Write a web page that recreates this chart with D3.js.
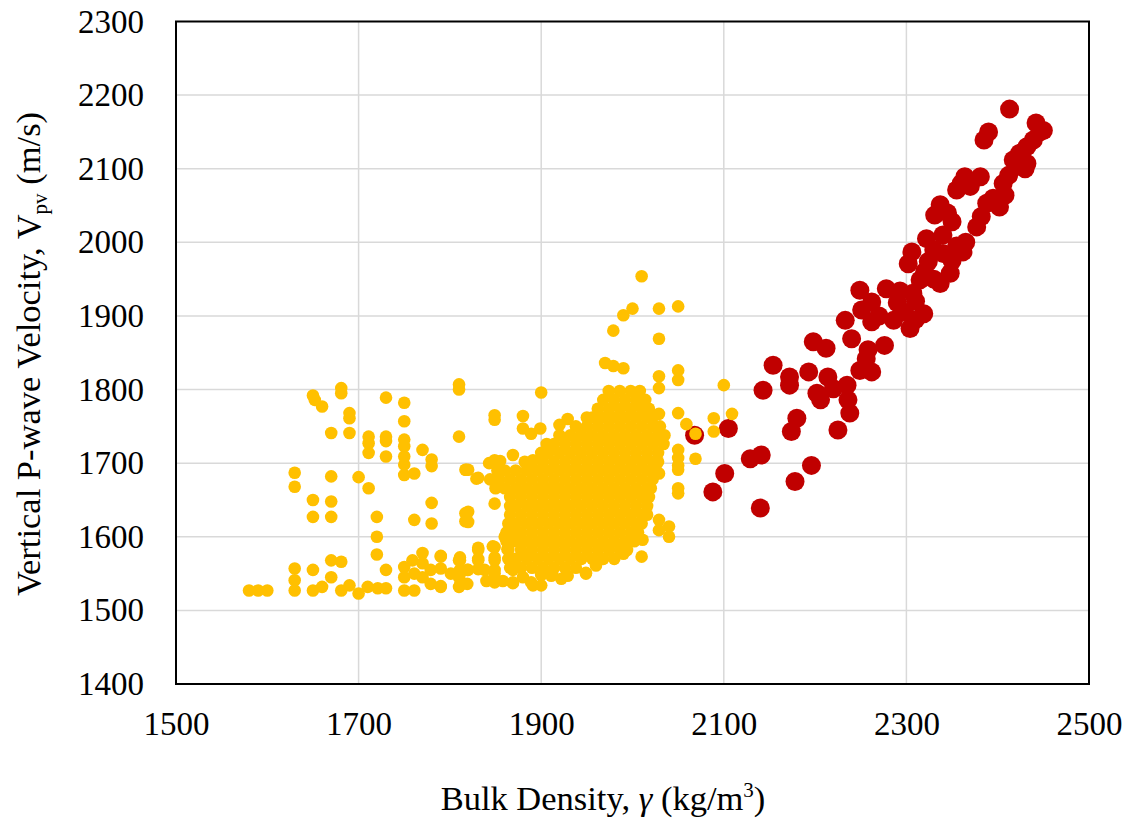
<!DOCTYPE html>
<html>
<head>
<meta charset="utf-8">
<script src="https://cdn.jsdelivr.net/npm/d3@7"></script>
<style>
  body { margin: 0; background: #fff; }
  text { font-family: "Liberation Serif", "Times New Roman", serif; fill: #000; }
</style>
</head>
<body>
<svg id="chart"></svg>
<script>
// axis ticks
const xTicks = [1500, 1700, 1900, 2100, 2300, 2500];
const yTicks = [1400, 1500, 1600, 1700, 1800, 1900, 2000, 2100, 2200, 2300];

// red series: [bulk density, Vpv]
const redPts = [
  [2413,2181],[2442,2162],[2446,2150],[2450,2152],[2390,2150],[2385,2139],[2439,2139],
  [2432,2130],[2424,2121],[2417,2112],[2432,2107],[2430,2100],[2425,2115],[2420,2104],
  [2412,2091],[2406,2080],[2381,2089],[2364,2089],[2355,2071],[2370,2076],[2360,2080],
  [2402,2048],[2408,2064],[2388,2053],[2395,2060],[2337,2051],[2331,2037],[2350,2028],
  [2345,2040],[2377,2021],[2382,2035],[2322,2005],[2340,2010],[2362,1987],[2365,2000],
  [2355,1995],[2306,1987],[2302,1971],[2324,1974],[2330,1990],[2340,1985],[2348,1958],
  [2350,1975],[2337,1944],[2315,1949],[2320,1960],[2307,1931],[2330,1950],[2278,1937],
  [2293,1934],[2249,1935],[2262,1919],[2251,1908],[2233,1894],[2262,1892],[2286,1894],
  [2304,1883],[2319,1903],[2310,1920],[2298,1905],[2290,1918],[2270,1900],[2310,1895],
  [2240,1869],[2198,1865],[2212,1856],[2276,1860],[2258,1854],[2256,1842],[2262,1824],
  [2249,1826],[2154,1833],[2172,1817],[2193,1824],[2172,1806],[2214,1817],[2143,1799],
  [2202,1795],[2220,1801],[2206,1786],[2235,1806],[2236,1786],[2238,1768],[2225,1745],
  [2180,1761],[2174,1743],[2105,1747],[2068,1738],[2129,1706],[2141,1711],[2196,1697],
  [2101,1686],[2178,1675],[2088,1661],[2140,1639]
];

// yellow series: [bulk density, Vpv]
const yellowPts = [
  // sparse low-density points
  [1580,1527],[1590,1527],[1600,1527],
  [1630,1687],[1630,1668],[1630,1557],[1630,1541],[1630,1527],
  [1650,1792],[1652,1786],[1660,1777],[1681,1802],[1681,1795],[1690,1768],[1690,1761],
  [1670,1741],[1690,1741],[1650,1650],[1650,1627],[1670,1648],[1670,1627],[1670,1682],
  [1700,1681],[1711,1666],[1670,1568],[1681,1566],[1650,1555],[1650,1527],[1660,1532],
  [1670,1545],[1681,1527],[1690,1534],[1700,1523],[1710,1532],
  [1720,1627],[1720,1600],[1720,1576],[1730,1555],[1730,1530],[1721,1530],
  [1711,1736],[1711,1727],[1711,1714],[1730,1789],[1730,1736],[1730,1730],[1730,1709],
  [1750,1782],[1750,1757],[1750,1732],[1750,1723],[1750,1709],[1750,1698],[1750,1684],
  [1761,1686],[1770,1718],[1780,1705],[1780,1696],[1780,1646],[1780,1618],[1761,1623],
  [1770,1578],[1790,1573],[1810,1568],[1810,1807],[1810,1800],[1810,1736],[1817,1691],
  [1817,1632],[1817,1621],
  [1750,1559],[1750,1545],[1750,1527],[1759,1568],[1761,1550],[1761,1527],[1770,1564],
  [1770,1545],[1779,1555],[1779,1536],[1790,1557],[1790,1532],[1801,1550],[1810,1545],
  [1810,1532],[1819,1555],[1819,1536],
  // mid-density outliers
  [2010,1954],[2000,1910],[1990,1901],[2029,1910],[2050,1913],[1979,1880],[2029,1869],
  [1970,1836],[1979,1832],[1990,1829],[2029,1818],[2029,1802],[2050,1826],[2050,1813],
  [1900,1796],[2100,1806],[2109,1767],[2089,1761],[2089,1743],[2069,1740],[2059,1753],
  [2069,1706],[2050,1768],[2029,1767],[1849,1765],[1849,1759],[1880,1764],[1880,1747],
  [1899,1747],[1889,1740],[1920,1752],[1929,1760],[1960,1763],[1818,1691],[1829,1679],
  [1869,1711],[1891,1704],[1849,1704],[1849,1645],[1820,1634],[1820,1620],[1811,1568],
  [1811,1534],[1811,1550],[1820,1555],[1831,1582],[1849,1586],[1869,1537],[1891,1534],
  [1900,1534],[1922,1543],[1949,1550],[1960,1561],[1990,1577],[2010,1573],[2011,1596],
  [2029,1623],[2040,1614],[2040,1600],[2029,1609],[2050,1697],[2050,1691],[2050,1666],
  [2050,1659],[2050,1718],[2050,1707],[2029,1686],
  [1831,1568],[1849,1568],[1849,1550],[1838,1555],[1869,1568],[1869,1555],[1880,1577],
  [1860,1600],[1869,1607],[1840,1540],[1858,1540],[1880,1545],[1900,1548],[1912,1552],
  // stair columns below the cluster
  [1790,1574],[1790,1533],[1811,1572],[1811,1555],[1812,1538],[1831,1585],[1831,1570],
  [1831,1556],[1847,1587],[1849,1572],[1849,1555],[1849,1538],[1863,1583],[1869,1560],
  [1869,1538],[1889,1538],[1911,1547],[1929,1547],[1949,1551],[1843,1700],[1855,1703],
  [1820,1691],[1831,1680],
  // dense cluster
  [1974,1798],[1986,1798],[1998,1798],[2008,1798],
  [1968,1786],[1980,1786],[1992,1786],[2004,1786],[2014,1786],
  [1962,1774],[1974,1774],[1986,1774],[1998,1774],[2010,1774],[2018,1774],
  [1950,1762],[1956,1762],[1968,1762],[1980,1762],[1992,1762],[2004,1762],[2016,1762],[2022,1762],
  [1938,1750],[1950,1750],[1962,1750],[1974,1750],[1986,1750],[1998,1750],[2010,1750],[2022,1750],[2030,1750],
  [1920,1738],[1932,1738],[1944,1738],[1956,1738],[1968,1738],[1980,1738],[1992,1738],[2004,1738],[2016,1738],[2028,1738],[2035,1738],
  [1906,1726],[1914,1726],[1926,1726],[1938,1726],[1950,1726],[1962,1726],[1974,1726],[1986,1726],[1998,1726],[2010,1726],[2022,1726],[2034,1726],
  [1900,1714],[1908,1714],[1920,1714],[1932,1714],[1944,1714],[1956,1714],[1968,1714],[1980,1714],[1992,1714],[2004,1714],[2016,1714],[2028,1714],
  [1882,1702],[1890,1702],[1902,1702],[1914,1702],[1926,1702],[1938,1702],[1950,1702],[1962,1702],[1974,1702],[1986,1702],[1998,1702],[2010,1702],[2022,1702],[2028,1702],
  [1852,1690],[1860,1690],[1872,1690],[1884,1690],[1896,1690],[1908,1690],[1920,1690],[1932,1690],[1944,1690],[1956,1690],[1968,1690],[1980,1690],[1992,1690],[2004,1690],[2016,1690],[2026,1690],
  [1844,1678],[1854,1678],[1866,1678],[1878,1678],[1890,1678],[1902,1678],[1914,1678],[1926,1678],[1938,1678],[1950,1678],[1962,1678],[1974,1678],[1986,1678],[1998,1678],[2010,1678],[2022,1678],
  [1850,1666],[1860,1666],[1872,1666],[1884,1666],[1896,1666],[1908,1666],[1920,1666],[1932,1666],[1944,1666],[1956,1666],[1968,1666],[1980,1666],[1992,1666],[2004,1666],[2016,1666],[2020,1666],
  [1866,1654],[1878,1654],[1890,1654],[1902,1654],[1914,1654],[1926,1654],[1938,1654],[1950,1654],[1962,1654],[1974,1654],[1986,1654],[1998,1654],[2010,1654],[2018,1654],
  [1866,1642],[1872,1642],[1884,1642],[1896,1642],[1908,1642],[1920,1642],[1932,1642],[1944,1642],[1956,1642],[1968,1642],[1980,1642],[1992,1642],[2004,1642],[2016,1642],
  [1866,1630],[1878,1630],[1890,1630],[1902,1630],[1914,1630],[1926,1630],[1938,1630],[1950,1630],[1962,1630],[1974,1630],[1986,1630],[1998,1630],[2010,1630],[2016,1630],
  [1864,1618],[1872,1618],[1884,1618],[1896,1618],[1908,1618],[1920,1618],[1932,1618],[1944,1618],[1956,1618],[1968,1618],[1980,1618],[1992,1618],[2004,1618],[2010,1618],
  [1862,1606],[1866,1606],[1878,1606],[1890,1606],[1902,1606],[1914,1606],[1926,1606],[1938,1606],[1950,1606],[1962,1606],[1974,1606],[1986,1606],[1998,1606],[2006,1606],
  [1862,1594],[1872,1594],[1884,1594],[1896,1594],[1908,1594],[1920,1594],[1932,1594],[1944,1594],[1956,1594],[1968,1594],[1980,1594],[1992,1594],[2002,1594],
  [1864,1582],[1878,1582],[1890,1582],[1902,1582],[1914,1582],[1926,1582],[1938,1582],[1950,1582],[1962,1582],[1974,1582],[1986,1582],[1994,1582],
  [1864,1570],[1872,1570],[1884,1570],[1896,1570],[1908,1570],[1920,1570],[1932,1570],[1944,1570],[1956,1570],[1968,1570],[1980,1570],
  [1866,1558],[1878,1558],[1890,1558],[1902,1558],[1914,1558],[1926,1558],[1938,1558]
];

function drawChart() {
    var wtot = 1130,
        htot = 818;

    // plot area
    var margin = { top: 21.5, right: 41, bottom: 134, left: 176 },
        width = wtot - margin.left - margin.right,
        height = htot - margin.top - margin.bottom;

    const xScale = d3.scaleLinear([1500, 2500], [margin.left, margin.left + width]);
    const yScale = d3.scaleLinear([1400, 2300], [margin.top + height, margin.top]);

    const svg = d3.select("#chart")
        .attr("width", wtot)
        .attr("height", htot)
        .attr("viewBox", "0 0 " + wtot + " " + htot);

    // grid lines
    svg.append("g")
        .attr("stroke", "#d9d9d9")
        .attr("stroke-width", 1.5)
        .call(g => g.selectAll(".vg")
            .data(xTicks.slice(1, -1))
            .join("line")
            .attr("x1", d => xScale(d)).attr("x2", d => xScale(d))
            .attr("y1", margin.top).attr("y2", margin.top + height))
        .call(g => g.selectAll(".hg")
            .data(yTicks.slice(1, -1))
            .join("line")
            .attr("x1", margin.left).attr("x2", margin.left + width)
            .attr("y1", d => yScale(d)).attr("y2", d => yScale(d)));

    // xAxis
    svg.append("g")
        .attr("transform", `translate(0,${margin.top + height})`)
        .call(d3.axisBottom(xScale).tickValues(xTicks).tickSize(0).tickPadding(28).tickFormat(d => d))
        .call(g => g.select(".domain").remove())
        .call(g => g.selectAll("text")
            .style("font-family", "Liberation Serif")
            .style("font-size", "33px")
            .attr("fill", "#000"));

    // yAxis
    svg.append("g")
        .attr("transform", `translate(${margin.left},0)`)
        .call(d3.axisLeft(yScale).tickValues(yTicks).tickSize(0).tickPadding(32).tickFormat(d => d))
        .call(g => g.select(".domain").remove())
        .call(g => g.selectAll("text")
            .style("font-family", "Liberation Serif")
            .style("font-size", "33px")
            .attr("fill", "#000"));

    // points: red first, yellow drawn over it
    svg.append("g")
        .selectAll("circle")
        .data(redPts)
        .join("circle")
        .attr("cx", d => xScale(d[0]))
        .attr("cy", d => yScale(d[1]))
        .attr("r", 9.5)
        .attr("fill", "#c00000");

    svg.append("g")
        .selectAll("circle")
        .data(yellowPts)
        .join("circle")
        .attr("cx", d => xScale(d[0]))
        .attr("cy", d => yScale(d[1]))
        .attr("r", 6.3)
        .attr("fill", "#ffc000");

    // plot border
    svg.append("rect")
        .attr("x", margin.left)
        .attr("y", margin.top)
        .attr("width", width)
        .attr("height", height)
        .attr("fill", "none")
        .attr("stroke", "#000")
        .attr("stroke-width", 2);

    // axis titles
    const xt = svg.append("text")
        .attr("x", 603)
        .attr("y", 810)
        .attr("text-anchor", "middle")
        .style("font-size", "34.5px");
    xt.append("tspan").text("Bulk Density, ");
    xt.append("tspan").style("font-style", "italic").text("γ");
    xt.append("tspan").text(" (kg/m");
    xt.append("tspan").attr("dy", -13).style("font-size", "21px").text("3");
    xt.append("tspan").attr("dy", 13).text(")");

    const yt = svg.append("text")
        .attr("transform", "translate(40,354) rotate(-90)")
        .attr("text-anchor", "middle")
        .style("font-size", "34.5px");
    yt.append("tspan").text("Vertical P-wave Velocity, V");
    yt.append("tspan").attr("dy", 7).style("font-size", "21px").text("pv");
    yt.append("tspan").attr("dy", -7).text(" (m/s)");
}

drawChart();
</script>
</body>
</html>
